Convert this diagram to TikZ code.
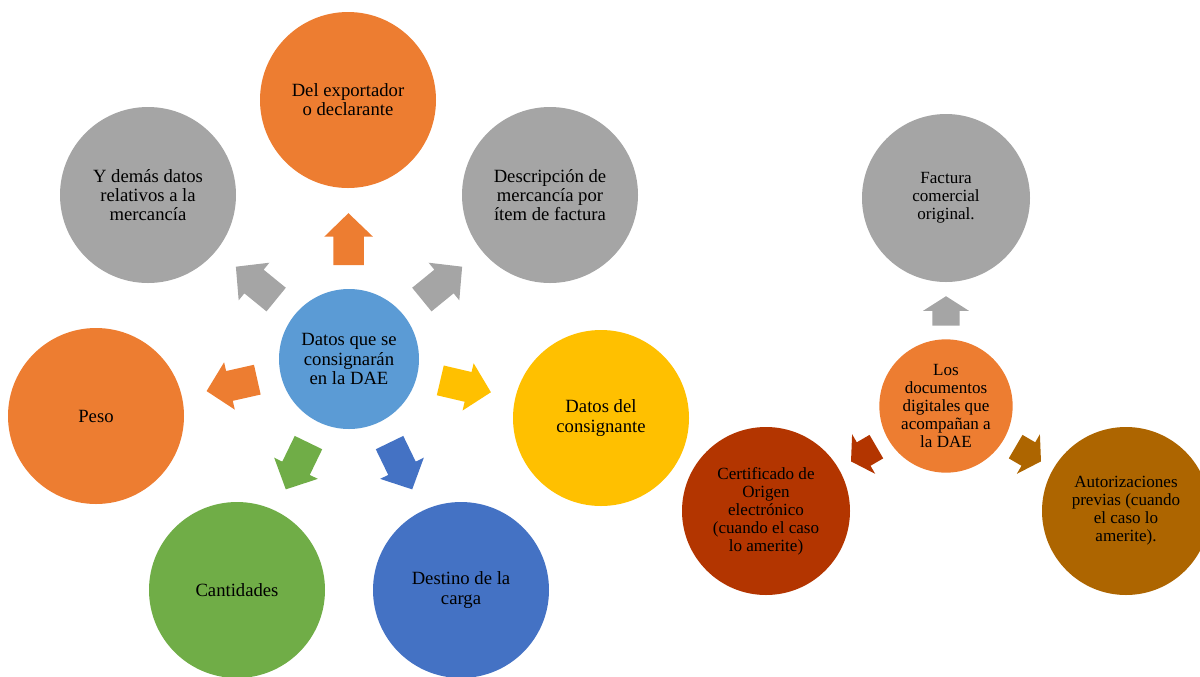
\documentclass[tikz,border=0pt]{standalone}
\usepackage{fontspec}
\setmainfont{Liberation Serif}
\usetikzlibrary{shapes.arrows}

\definecolor{naranja}{HTML}{ED7D31}
\definecolor{gris}{HTML}{A5A5A5}
\definecolor{oro}{HTML}{FFC000}
\definecolor{azul}{HTML}{4472C4}
\definecolor{celeste}{HTML}{5B9BD5}
\definecolor{verde}{HTML}{70AD47}
\definecolor{ladrillo}{HTML}{B33500}
\definecolor{ocre}{HTML}{AD6500}

\tikzset{
  bola/.style={circle, fill=#1, draw=none, inner sep=0pt, align=center,
    font=\fontsize{14}{14.3}\selectfont},
  grande/.style={bola=#1, minimum size=132pt},
  media/.style={bola=#1, minimum size=126pt, font=\fontsize{12.8}{13.5}\selectfont},
  flecha/.style={single arrow, fill=#1, draw=none,
    inner xsep=0pt, inner ysep=11.25pt, minimum height=39pt,
    single arrow head extend=6.75pt, single arrow tip angle=92,
    sloped, allow upside down, pos=0.42},
  flechita/.style={single arrow, fill=#1, draw=none,
    inner xsep=0pt, inner ysep=10pt, minimum height=22pt,
    single arrow head extend=7pt, single arrow tip angle=115,
    sloped, allow upside down, pos=0.42}
}

\begin{document}
\begin{tikzpicture}[x=0.75pt, y=-0.75pt]
    \useasboundingbox (0,0) rectangle (1200,676);

    % datos de la DAE
    \node[bola=celeste, minimum size=105pt] (datos) at (349,359) {Datos que se\\consignarán\\en la DAE};
    \node[grande=naranja] (export) at (348,100) {Del exportador\\o declarante};
    \node[grande=gris] (demas) at (148,195) {Y demás datos\\relativos a la\\mercancía};
    \node[grande=gris] (descr) at (550,195) {Descripción de\\mercancía por\\ítem de factura};
    \node[grande=oro] (consig) at (601,418) {Datos del\\consignante};
    \node[grande=naranja] (peso) at (96,416) {Peso};
    \node[grande=verde] (cant) at (237,590) {Cantidades};
    \node[grande=azul] (destino) at (461,590) {Destino de la\\carga};

    \path (datos) -- (export) node[flecha=naranja] (f1) {};
    \path (datos) -- (demas) node[flecha=gris] (f2) {};
    \path (datos) -- (descr) node[flecha=gris] (f3) {};
    \path (datos) -- (consig) node[flecha=oro] (f4) {};
    \path (datos) -- (peso) node[flecha=naranja] (f5) {};
    \path (datos) -- (cant) node[flecha=verde] (f6) {};
    \path (datos) -- (destino) node[flecha=azul] (f7) {};

    % documentos digitales
    \node[media=naranja, minimum size=100pt] (docs) at (946,406) {Los\\documentos\\digitales que\\acompañan a\\la DAE};
    \node[media=gris] (factura) at (946,198) {Factura\\comercial\\original.};
    \node[media=ladrillo] (certif) at (766,511) {Certificado de\\Origen\\electrónico\\(cuando el caso\\lo amerite)};
    \node[media=ocre] (autor) at (1126,511) {Autorizaciones\\previas (cuando\\el caso lo\\amerite).};

    \path (docs) -- (factura) node[flechita=gris] (g1) {};
    \path (docs) -- (certif) node[flechita=ladrillo] (g2) {};
    \path (docs) -- (autor) node[flechita=ocre] (g3) {};
\end{tikzpicture}
\end{document}
